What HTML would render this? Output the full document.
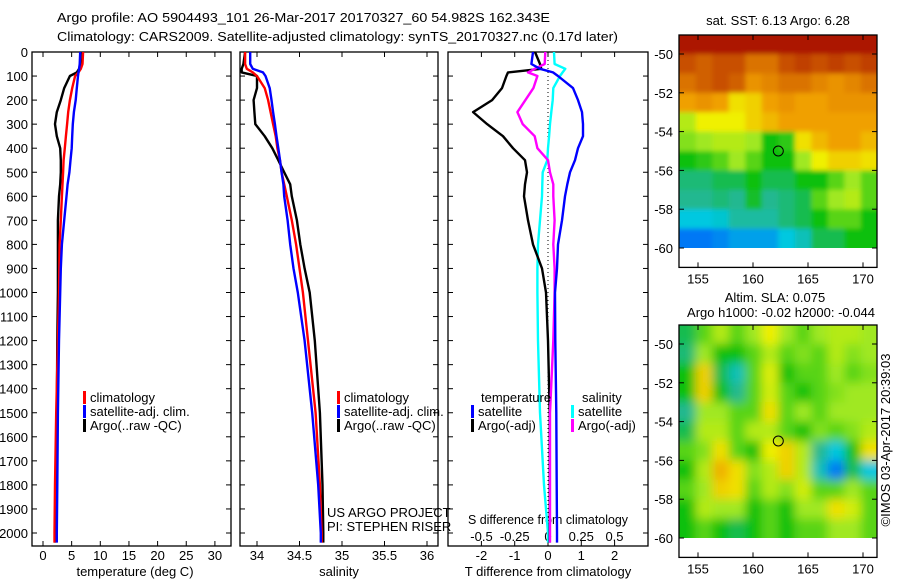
<!DOCTYPE html>
<html><head><meta charset="utf-8"><style>
body{margin:0;background:#fff}
svg text{font-family:"Liberation Sans",sans-serif;font-size:13px;fill:#000}
</style></head><body>
<svg id="c" width="900" height="580" viewBox="0 0 900 580">
<defs>
<filter id="b1" x="-10%" y="-10%" width="120%" height="120%"><feGaussianBlur stdDeviation="2.5"/></filter>
<filter id="b2" x="-10%" y="-10%" width="120%" height="120%"><feGaussianBlur stdDeviation="5"/></filter>
<clipPath id="cp1"><rect x="679" y="35" width="198" height="213"/></clipPath>
<clipPath id="cp2"><rect x="679" y="325" width="198" height="213"/></clipPath>
</defs>
<text x="57" y="22" font-size="14" textLength="493" lengthAdjust="spacingAndGlyphs">Argo profile: AO 5904493_101 26-Mar-2017 20170327_60 54.982S 162.343E</text>
<text x="57" y="41" font-size="14" textLength="561" lengthAdjust="spacingAndGlyphs">Climatology: CARS2009. Satellite-adjusted climatology: synTS_20170327.nc (0.17d later)</text>
<g id="g"></g>
</svg>
<script>
const depths=[0,50,70,85,100,150,200,250,300,350,400,450,500,550,600,700,800,900,1000,1200,1500,1800,2000,2040];
const tClim=[7.0,6.9,6.6,6.2,5.6,5.1,4.7,4.4,4.2,4.0,3.8,3.6,3.5,3.4,3.3,3.1,2.9,2.85,2.8,2.6,2.3,2.1,2.0,2.0];
const tSat=[6.5,6.4,6.3,6.2,6.1,5.9,5.7,5.4,5.2,5.1,5.0,4.8,4.6,4.3,4.1,3.7,3.3,3.1,3.0,2.8,2.6,2.5,2.4,2.4];
const tArgo=[6.6,6.5,6.3,5.9,4.7,3.7,3.1,2.4,2.1,2.4,3.0,3.1,3.1,3.0,2.8,2.6,2.6,2.6,2.6,2.5,2.4,2.2,2.1,2.1];
const sClim=[33.86,33.86,33.88,33.95,34.0,34.09,34.13,34.16,34.19,34.22,34.24,34.27,34.29,34.32,34.35,34.41,34.46,34.5,34.54,34.6,34.69,34.74,34.76,34.76];
const sSat=[33.92,33.92,33.95,34.07,34.1,34.15,34.17,34.19,34.21,34.23,34.25,34.27,34.29,34.31,34.32,34.36,34.39,34.43,34.48,34.56,34.65,34.72,34.75,34.75];
const sArgo=[33.86,33.84,33.82,33.82,34.0,34.0,33.96,33.97,33.98,34.09,34.18,34.25,34.32,34.39,34.41,34.47,34.51,34.56,34.62,34.68,34.74,34.77,34.78,34.78];
const dTSat=[-0.45,-0.5,-0.24,0.15,0.3,0.75,0.9,1.02,1.05,1.05,0.9,0.81,0.66,0.58,0.51,0.42,0.3,0.27,0.21,0.22,0.25,0.26,0.27,0.27];
const dTArgo=[-0.39,-0.24,-0.2,-1.2,-1.25,-1.38,-1.68,-2.25,-1.83,-1.35,-1.05,-0.69,-0.63,-0.69,-0.72,-0.6,-0.45,-0.18,-0.06,0.0,0.05,0.05,0.05,0.05];
const dSSat=[0.045,0.05,0.13,0.11,0.09,0.04,0.035,0.025,0.015,0.008,0.0,-0.005,-0.04,-0.043,-0.045,-0.06,-0.075,-0.08,-0.08,-0.075,-0.06,-0.03,0.0,0.0];
const dSArgo=[-0.02,-0.025,-0.1,-0.15,-0.08,-0.11,-0.17,-0.23,-0.19,-0.1,-0.08,0.0,0.015,0.04,0.04,0.05,0.04,0.05,0.05,0.04,0.015,0.015,0.015,0.015];
const depthTicks=[0,100,200,300,400,500,600,700,800,900,1000,1100,1200,1300,1400,1500,1600,1700,1800,1900,2000];
const tempTicks=[0,5,10,15,20,25,30];
const salTicks=[34,34.5,35,35.5,36];
const tdTicks=[-2,-1,0,1,2];
const sdTicks=[-0.5,-0.25,0,0.25,0.5];
const latTicks=[-50,-52,-54,-56,-58,-60];
const lonTicks=[155,160,165,170];
const sstGrid=[
[0.97,0.97,0.97,0.97,0.97,0.97,0.97,0.97,0.97,0.97,0.97,0.97],
[0.9,0.88,0.9,0.9,0.85,0.85,0.9,0.92,0.9,0.92,0.9,0.92],
[0.85,0.88,0.9,0.88,0.8,0.82,0.85,0.85,0.82,0.8,0.82,0.85],
[0.78,0.8,0.78,0.7,0.72,0.78,0.8,0.78,0.78,0.8,0.8,0.8],
[0.62,0.68,0.68,0.68,0.72,0.75,0.78,0.78,0.78,0.78,0.78,0.78],
[0.58,0.6,0.62,0.62,0.6,0.5,0.52,0.7,0.75,0.78,0.78,0.75],
[0.5,0.52,0.55,0.6,0.55,0.5,0.5,0.6,0.68,0.72,0.72,0.7],
[0.42,0.42,0.45,0.45,0.5,0.45,0.45,0.5,0.5,0.55,0.6,0.55],
[0.4,0.4,0.42,0.4,0.48,0.4,0.42,0.45,0.55,0.6,0.62,0.55],
[0.3,0.3,0.32,0.38,0.38,0.38,0.42,0.45,0.5,0.55,0.55,0.5],
[0.2,0.2,0.22,0.25,0.25,0.25,0.3,0.35,0.45,0.45,0.5,0.5]];
const slaGrid=[
[0.45,0.55,0.62,0.55,0.6,0.68,0.6,0.55,0.6,0.62,0.62,0.6],
[0.42,0.6,0.5,0.5,0.55,0.62,0.55,0.58,0.55,0.62,0.58,0.6],
[0.5,0.72,0.45,0.35,0.55,0.66,0.5,0.55,0.55,0.6,0.55,0.58],
[0.5,0.72,0.5,0.4,0.55,0.65,0.55,0.5,0.55,0.58,0.6,0.6],
[0.4,0.6,0.6,0.55,0.55,0.7,0.55,0.6,0.55,0.6,0.6,0.6],
[0.45,0.62,0.62,0.55,0.62,0.62,0.55,0.5,0.58,0.55,0.58,0.62],
[0.55,0.58,0.7,0.55,0.5,0.68,0.72,0.62,0.4,0.3,0.5,0.7],
[0.5,0.62,0.76,0.7,0.58,0.62,0.72,0.62,0.35,0.2,0.45,0.3],
[0.55,0.6,0.72,0.7,0.55,0.62,0.58,0.65,0.55,0.55,0.6,0.55],
[0.5,0.62,0.6,0.6,0.5,0.55,0.5,0.6,0.6,0.7,0.65,0.55],
[0.5,0.55,0.5,0.45,0.5,0.55,0.5,0.55,0.55,0.6,0.6,0.55]];
const argoLon=162.3, argoLat=-55.0;

const NS='http://www.w3.org/2000/svg';
const G=document.getElementById('g');
function mk(tag,at,parent){const e=document.createElementNS(NS,tag);for(const k in at)e.setAttribute(k,at[k]);(parent||G).appendChild(e);return e;}
function txt(x,y,s,anchor){const t=mk('text',{x:x,y:y,'text-anchor':anchor||'start'});t.textContent=s;return t;}
const yD=d=>52+d*0.2405;
const xT=v=>43+v*5.73;
const xS=v=>257+(v-34)*85;
const xDT=v=>548+v*33.3;
const xDS=v=>548+v*133;

function panel(x0,x1,name){
  const r=mk('rect',{x:x0,y:52,width:x1-x0,height:494,fill:'none',stroke:'#000','stroke-width':1.3});
  
  
  depthTicks.forEach(d=>{mk('line',{x1:x0,x2:x0+5,y1:yD(d),y2:yD(d),stroke:'#000'});mk('line',{x1:x1-5,x2:x1,y1:yD(d),y2:yD(d),stroke:'#000'});});
}
function line(arr,xf,color,name,w){
  const p=arr.map((v,i)=>(i?'L':'M')+xf(v).toFixed(1)+','+yD(depths[i]).toFixed(1)).join('');
  const e=mk('path',{d:p,fill:'none',stroke:color,'stroke-width':w||2.4,'stroke-linejoin':'round'});
  
  
}
panel(32,231,'temperature-panel');
depthTicks.forEach(d=>{const t=txt(28,yD(d)+5,String(d),'end');});
tempTicks.forEach(v=>{mk('line',{x1:xT(v),x2:xT(v),y1:546,y2:541,stroke:'#000'});mk('line',{x1:xT(v),x2:xT(v),y1:52,y2:57,stroke:'#000'});txt(xT(v),560,String(v),'middle');});
const tt=txt(135,576,'temperature (deg C)','middle');
line(tArgo,xT,'#000','argo-temperature-line');
line(tClim,xT,'#f00','climatology-temperature-line');
line(tSat,xT,'#00f','satellite-temperature-line');
panel(240,438,'salinity-panel');
salTicks.forEach(v=>{mk('line',{x1:xS(v),x2:xS(v),y1:546,y2:541,stroke:'#000'});mk('line',{x1:xS(v),x2:xS(v),y1:52,y2:57,stroke:'#000'});txt(xS(v),560,String(v),'middle');});
const st=txt(339,576,'salinity','middle');
line(sArgo,xS,'#000','argo-salinity-line');
line(sClim,xS,'#f00','climatology-salinity-line');
line(sSat,xS,'#00f','satellite-salinity-line');
panel(448,648,'difference-panel');
mk('line',{x1:548,x2:548,y1:52,y2:546,stroke:'#000','stroke-dasharray':'1,3'});
tdTicks.forEach(v=>{mk('line',{x1:xDT(v),x2:xDT(v),y1:546,y2:541,stroke:'#000'});mk('line',{x1:xDT(v),x2:xDT(v),y1:52,y2:57,stroke:'#000'});txt(xDT(v),560,String(v),'middle');});
sdTicks.forEach(v=>txt(xDS(v),541,String(v),'middle'));
const sd=txt(468,524,'S difference from climatology');sd.setAttribute('textLength','160');sd.setAttribute('lengthAdjust','spacingAndGlyphs');
const dt=txt(548,576,'T difference from climatology','middle');
line(dSSat,xDS,'#0ff','salinity-satellite-diff-line');
line(dTArgo,xDT,'#000','temperature-argo-diff-line');
line(dSArgo,xDS,'#f0f','salinity-argo-diff-line');
line(dTSat,xDT,'#00f','temperature-satellite-diff-line');
function leg(x,y,c,s){mk('rect',{x:x,y:y-11,width:3,height:13,fill:c});const t=txt(x+7,y,s);}
leg(83,402,'#f00','climatology');leg(83,416,'#00f','satellite-adj. clim.');leg(83,430,'#000','Argo(..raw -QC)');
leg(337,402,'#f00','climatology');leg(337,416,'#00f','satellite-adj. clim.');leg(337,430,'#000','Argo(..raw -QC)');
txt(481,402,'temperature');txt(582,402,'salinity');
leg(471,416,'#00f','satellite');leg(471,430,'#000','Argo(-adj)');
leg(571,416,'#0ff','satellite');leg(571,430,'#f0f','Argo(-adj)');
txt(327,517,'US ARGO PROJECT');txt(327,531,'PI: STEPHEN RISER');
const stops=[[0,[0,0,143]],[0.15,[0,80,255]],[0.3,[0,200,224]],[0.4,[32,184,144]],[0.5,[16,192,16]],[0.6,[160,232,32]],[0.68,[240,240,0]],[0.78,[240,160,0]],[0.88,[208,96,0]],[1,[160,0,0]]];
function cmap(v){for(let i=1;i<stops.length;i++){if(v<=stops[i][0]){const a=stops[i-1],b=stops[i],f=(v-a[0])/(b[0]-a[0]);return 'rgb('+a[1].map((c,k)=>Math.round(c+(b[1][k]-c)*f)).join(',')+')';}}return 'rgb(160,0,0)';}
function map(y0,grid,name,filt,clip){
  const lonX=l=>698+(l-155)*11, latY=l=>y0+19+(-50-l)*19.4;
  const lon0=153.3,dl=1.5;
  const outer=mk('g',{'clip-path':'url(#'+clip+')'});
  
  
  const g=mk('g',{filter:'url(#'+filt+')'},outer);
  const nr=grid.length,nc=grid[0].length;
  grid.forEach((row,r)=>row.forEach((v,c)=>{
    let x=lonX(lon0+c*dl), y=latY(-49-r), w=dl*11+0.6, h=20;
    if(c===0){x-=15;w+=15;} if(c===nc-1){w+=15;}
    if(r===0){y-=15;h+=15;} if(r===nr-1){h+=15;}
    mk('rect',{x:x.toFixed(1),y:y.toFixed(1),width:w.toFixed(1),height:h,fill:cmap(v)},g);
  }));
  mk('rect',{x:679,y:latY(-60),width:198,height:latY(-61)-latY(-60),fill:'#fff'});
  mk('rect',{x:679,y:y0,width:198,height:latY(-61)-y0,fill:'none',stroke:'#000','stroke-width':1.3});
  latTicks.forEach(l=>{mk('line',{x1:679,x2:684,y1:latY(l),y2:latY(l),stroke:'#000'});mk('line',{x1:872,x2:877,y1:latY(l),y2:latY(l),stroke:'#000'});txt(673,latY(l)+5,String(l),'end');});
  lonTicks.forEach(l=>{mk('line',{x1:lonX(l),x2:lonX(l),y1:y0,y2:y0+5,stroke:'#000'});mk('line',{x1:lonX(l),x2:lonX(l),y1:latY(-61)-5,y2:latY(-61),stroke:'#000'});txt(lonX(l),latY(-61)+16,String(l),'middle');});
  const c=mk('circle',{cx:lonX(argoLon),cy:latY(argoLat),r:5,fill:'none',stroke:'#000','stroke-width':1});
  
  
}
map(35,sstGrid,'sst-map','b1','cp1');
map(325,slaGrid,'sla-map','b2','cp2');
txt(778,25,'sat. SST: 6.13 Argo: 6.28','middle');
txt(775,302,'Altim. SLA: 0.075','middle');
txt(781,317,'Argo h1000: -0.02 h2000: -0.044','middle');
const im=txt(0,0,'©IMOS 03-Apr-2017 20:39:03','middle');
im.setAttribute('transform','translate(890,440) rotate(-90)');


</script>
</body></html>
